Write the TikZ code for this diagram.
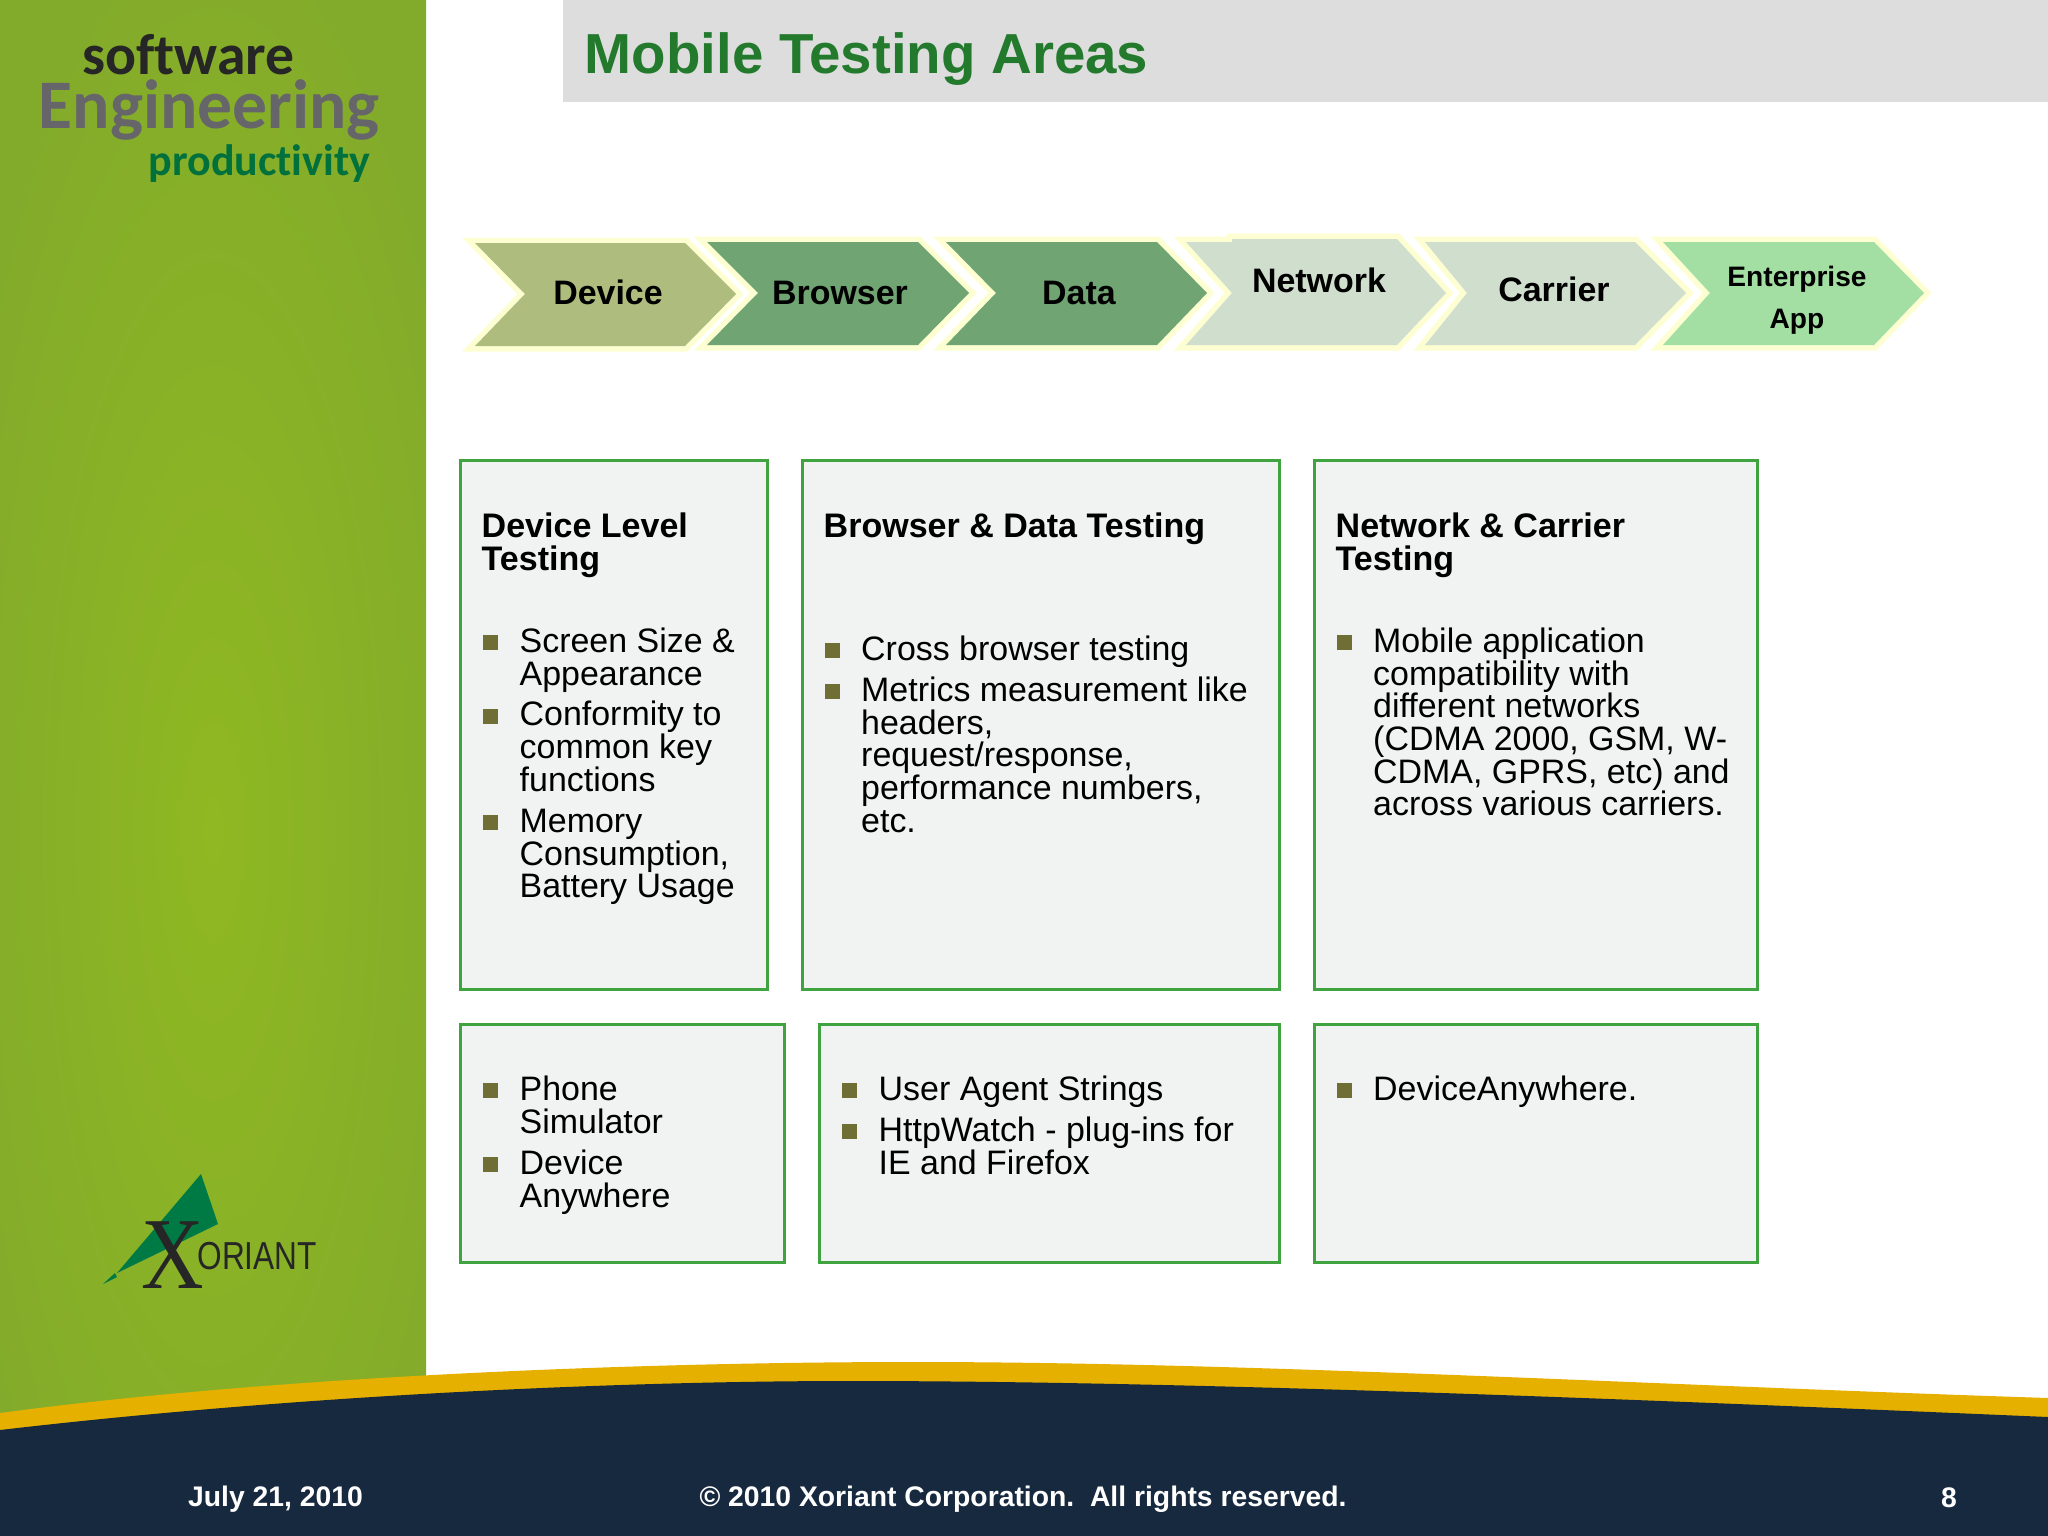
\documentclass[tikz,border=0pt]{standalone}
\usepackage{fontspec}
\setmainfont{Liberation Sans}
\newfontfamily\logofont[Ligatures=NoCommon]{Carlito}
\newfontfamily\markfont{Liberation Serif}
\definecolor{sidecore}{HTML}{8FB822}
\definecolor{sideedge}{HTML}{83AB2B}
\definecolor{navy}{HTML}{16293F}
\definecolor{gold}{HTML}{E6B000}
\definecolor{band}{HTML}{DCDDDC}
\definecolor{titlegreen}{HTML}{237A2D}
\definecolor{chevglow}{HTML}{FDFFD2}
\definecolor{chevdevice}{HTML}{AEBC7E}
\definecolor{chevbrowser}{HTML}{70A473}
\definecolor{chevnetwork}{HTML}{D0DECE}
\definecolor{chevapp}{HTML}{A3DFA3}
\definecolor{panelline}{HTML}{3FA33F}
\definecolor{panelfill}{HTML}{F0F3F2}
\definecolor{bulletcol}{HTML}{6E6E35}
\definecolor{logogrey}{HTML}{66666A}
\definecolor{logogreen}{HTML}{00703C}
\definecolor{markgreen}{HTML}{007A45}
\tikzset{
  chevron/.style={preaction={draw=chevglow,line width=0.11cm}},
  chevtext/.style={font=\fontsize{9.65}{9.65}\selectfont\bfseries,inner sep=0pt},
  panel/.style={draw=panelline,line width=0.03cm,fill=panelfill},
  headtext/.style={font=\fontsize{9.68}{9.3}\selectfont\bfseries,align=left,anchor=north west,inner sep=0pt},
  itemtext/.style={font=\fontsize{9.65}{9.3}\selectfont,align=left,anchor=north west,inner sep=0pt},
  bullet/.style={fill=bulletcol,minimum size=0.15cm,inner sep=0pt},
  foottext/.style={font=\fontsize{8.05}{8.05}\selectfont\bfseries,text=white,inner sep=0pt}
}
\begin{document}
\begin{tikzpicture}[x=0.01cm,y=-0.01cm]
  \useasboundingbox (0,0) rectangle (2048,1536);
  \fill[white] (0,0) rectangle (2048,1536);
  \begin{scope}
    \clip (0,0) rectangle (426,1450);
    \shade[inner color=sidecore,outer color=sideedge] (-60,-100) rectangle (486,1760);
  \end{scope}
  \fill[band] (563,0) rectangle (2048,102);
  \node[font=\fontsize{16.05}{16}\selectfont\bfseries,text=titlegreen,anchor=base west,inner sep=0pt] (title) at (584,73) {Mobile Testing Areas};

  \node[font=\logofont\fontsize{16.4}{16}\selectfont\bfseries,text=black!85,anchor=base west,inner sep=0pt] (software) at (82,74) {software};
  \node[font=\logofont\fontsize{19.8}{19.4}\selectfont\bfseries,text=logogrey,anchor=base west,inner sep=0pt] (engineering) at (38,128) {Engineering};
  \node[font=\logofont\fontsize{12.5}{12.3}\selectfont\bfseries,text=logogreen,anchor=base west,inner sep=0pt] (productivity) at (148,175) {productivity};

  \fill[markgreen] (201,1174) -- (218,1224) -- (117,1273) -- cycle;
  \fill[markgreen] (103,1284) -- (115,1273) -- (117,1277) -- cycle;
  \node[font=\markfont\fontsize{29}{29}\selectfont,text=black!85,anchor=base,xscale=0.85,transform shape,inner sep=0pt] (markx) at (173,1288) {X};
  \node[font=\fontsize{11.1}{11.1}\selectfont,text=black!85,anchor=base west,xscale=0.81,transform shape,inner sep=0pt] (oriant) at (197,1269) {ORIANT};

  \path[chevron,fill=chevdevice] (475,243) -- (685,243) -- (736,294) -- (685,346) -- (475,346) -- (525,294) -- cycle;
  \path[chevron,fill=chevbrowser] (707,242) -- (918,242) -- (969,293) -- (918,345) -- (707,345) -- (758,293) -- cycle;
  \path[chevron,fill=chevbrowser] (946,242) -- (1157,242) -- (1207,293) -- (1157,345) -- (946,345) -- (996,293) -- cycle;
  \path[chevron,fill=chevnetwork] (1186,242) -- (1232,242) -- (1232,239) -- (1397,239) -- (1446,293) -- (1397,345) -- (1186,345) -- (1232,293) -- cycle;
  \path[chevron,fill=chevnetwork] (1425,242) -- (1635,242) -- (1686,293) -- (1635,345) -- (1425,345) -- (1467,293) -- cycle;
  \path[chevron,fill=chevapp] (1663,242) -- (1874,242) -- (1924,293) -- (1874,345) -- (1663,345) -- (1710,293) -- cycle;
  \node[chevtext] (device) at (608,292.5) {Device};
  \node[chevtext] (browser) at (840,293) {Browser};
  \node[chevtext] (data) at (1079,292.5) {Data};
  \node[chevtext] (network) at (1319,280.5) {Network};
  \node[chevtext] (carrier) at (1554,289) {Carrier};
  \node[chevtext,font=\fontsize{8}{12}\selectfont\bfseries,align=center] (enterprise) at (1797,300.5) {Enterprise\\App};

  \draw[panel] (460,460) rectangle (767.5,989);
  \draw[panel] (802,460) rectangle (1279.5,989);
  \draw[panel] (1314,460) rectangle (1757.5,989);
  \draw[panel] (460,1024) rectangle (784.5,1262);
  \draw[panel] (819,1024) rectangle (1279.5,1262);
  \draw[panel] (1314,1024) rectangle (1757.5,1262);

  \node[headtext] (devicehead) at (481,512) {Device Level\\Testing};
  \node[bullet] (screenbul) at (490.5,642) {};
  \node[itemtext] (screen) at (519,627) {Screen Size \&\\Appearance};
  \node[bullet] (conformbul) at (490.5,716) {};
  \node[itemtext] (conform) at (519,700.5) {Conformity to\\common key\\functions};
  \node[bullet] (memorybul) at (490.5,822) {};
  \node[itemtext] (memory) at (519,808.5) {Memory\\Consumption,\\Battery Usage};

  \node[headtext] (browserhead) at (823,512) {Browser \& Data Testing};
  \node[bullet] (crossbul) at (832.5,650) {};
  \node[itemtext] (cross) at (860.5,635) {Cross browser testing};
  \node[bullet] (metricsbul) at (832.5,691) {};
  \node[itemtext] (metrics) at (860.5,676) {Metrics measurement like\\headers,\\request/response,\\performance numbers,\\etc.};

  \node[headtext] (networkhead) at (1335,512) {Network \& Carrier\\Testing};
  \node[bullet] (mobilebul) at (1344.5,642) {};
  \node[itemtext] (mobile) at (1372.5,627) {Mobile application\\compatibility with\\different networks\\(CDMA 2000, GSM, W-\\CDMA, GPRS, etc) and\\across various carriers.};

  \node[bullet] (phonebul) at (490.5,1090.5) {};
  \node[itemtext] (phone) at (519,1075.5) {Phone\\Simulator};
  \node[bullet] (anywherebul) at (490.5,1164) {};
  \node[itemtext] (anywhere) at (519,1149) {Device\\Anywhere};

  \node[bullet] (agentbul) at (849,1090.5) {};
  \node[itemtext] (agent) at (878,1075.5) {User Agent Strings};
  \node[bullet] (httpbul) at (849,1131) {};
  \node[itemtext] (http) at (878,1116.5) {HttpWatch - plug-ins for\\IE and Firefox};

  \node[bullet] (toolbul) at (1344.5,1090.5) {};
  \node[itemtext] (tool) at (1372.5,1075.5) {DeviceAnywhere.};

  \fill[gold] (0,1413) .. controls (260,1378) and (620,1362) .. (914,1362) .. controls (1250,1362) and (1650,1385) .. (2048,1398) -- (2048,1536) -- (0,1536) -- cycle;
  \fill[navy] (0,1430) .. controls (300,1395) and (620,1381) .. (850,1381) .. controls (1200,1381) and (1650,1400) .. (2048,1417) -- (2048,1536) -- (0,1536) -- cycle;
  \node[foottext] (date) at (275.5,1499) {July 21, 2010};
  \node[foottext] (copyright) at (1023,1499) {\textcopyright{} 2010 Xoriant Corporation.\ \ All rights reserved.};
  \node[foottext] (pageno) at (1949,1498) {8};
\end{tikzpicture}
\end{document}
